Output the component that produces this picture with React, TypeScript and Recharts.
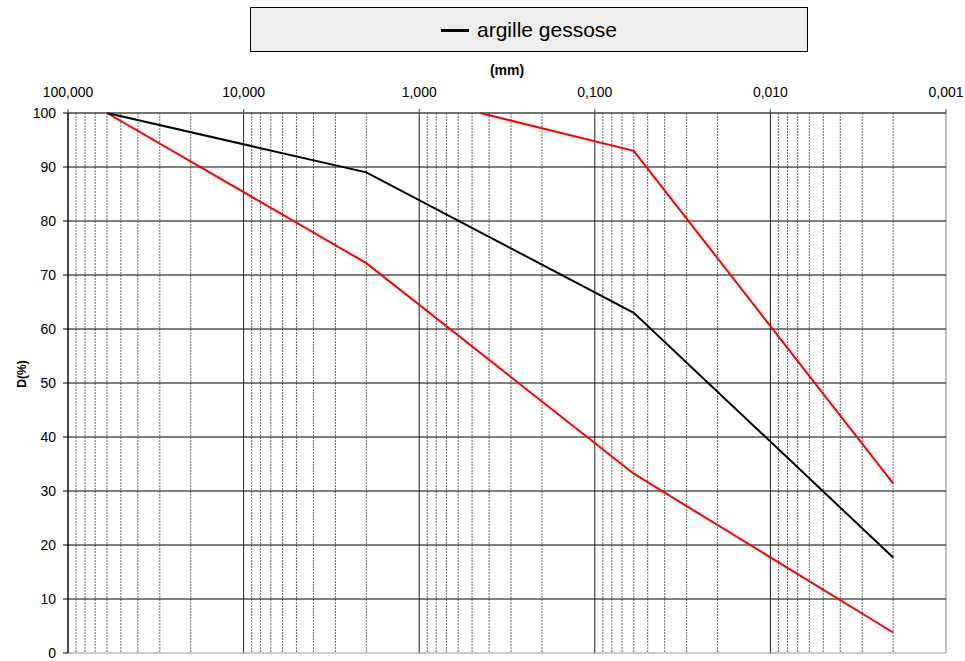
import React from 'react';
import { LineChart, Line, XAxis, YAxis, ReferenceLine } from 'recharts';

// grain size (mm) and passing percentage
const blackSizes = [60, 2, 0.06, 0.002];
const blackPassing = [100, 89, 63, 17.7];
const lowerSizes = [60, 2, 0.06, 0.002];
const lowerPassing = [100, 72.2, 33.2, 3.8];
const upperSizes = [0.45, 0.06, 0.002];
const upperPassing = [100, 93, 31.4];

const decadeTicks = [100, 10, 1, 0.1, 0.01, 0.001];
const minorDecades = [10, 1, 0.1, 0.01, 0.001];
const minorMultipliers = [2, 3, 4, 5, 6, 7, 8, 9];
const yTicks = [0, 10, 20, 30, 40, 50, 60, 70, 80, 90, 100];
const yGrid = [10, 20, 30, 40, 50, 60, 70, 80, 90, 100];

const legendName = 'argille gessose';

const toRows = (sizes: number[], vals: number[]) => sizes.map((d, i) => ({ d, p: vals[i] }));
const blackData = toRows(blackSizes, blackPassing);
const lowerData = toRows(lowerSizes, lowerPassing);
const upperData = toRows(upperSizes, upperPassing);

const minorValues: number[] = [];
minorDecades.forEach((dec) => minorMultipliers.forEach((m) => minorValues.push(+(dec * m).toPrecision(3))));

const FONT = '"Liberation Sans", Arial, sans-serif';

export default function App() {
  return (
    <div style={{ position: 'absolute', left: 0, top: 0, width: 965, height: 661, background: '#fff', fontFamily: FONT }}>
      <div
        style={{
          position: 'absolute',
          left: 250,
          top: 7,
          width: 556,
          height: 43,
          background: '#eeeeee',
          border: '1px solid #000',
          display: 'flex',
          alignItems: 'center',
          justifyContent: 'center',
        }}
      >
        <span style={{ display: 'inline-block', width: 28, height: 3, background: '#000', marginRight: 8, marginTop: 1 }} />
        <span style={{ fontSize: 21, color: '#000', fontFamily: FONT }}>{legendName}</span>
      </div>
      <LineChart width={965} height={661} margin={{ top: 63, right: 19, bottom: 8, left: 0 }}>
        <XAxis
          dataKey="d"
          type="number"
          scale="log"
          domain={[0.001, 100]}
          reversed
          orientation="top"
          ticks={decadeTicks}
          interval={0}
          allowDataOverflow
          height={50}
          tickSize={4}
          tickMargin={12}
          tickFormatter={(v: number) => v.toFixed(3).replace('.', ',')}
          tick={{ fontSize: 14, fill: '#000', fontFamily: FONT }}
          stroke="#444"
          axisLine={{ stroke: '#444' }}
          tickLine={{ stroke: '#444' }}
          label={{ value: '(mm)', position: 'insideTop', offset: 2, fontSize: 14, fontWeight: 'bold', fill: '#000', fontFamily: FONT }}
        />
        <YAxis
          type="number"
          domain={[0, 100]}
          ticks={yTicks}
          interval={0}
          width={68}
          tickSize={5}
          tickMargin={7}
          tick={{ fontSize: 14, fill: '#000', fontFamily: FONT }}
          axisLine={{ stroke: '#000' }}
          tickLine={{ stroke: '#000' }}
          label={(props: any) => {
            const vb = props.viewBox || { x: 0, y: 113, width: 68, height: 540 };
            const cx = vb.x + 22;
            const cy = vb.y + vb.height / 2 - 9;
            return (
              <text
                x={cx}
                y={cy}
                transform={`rotate(-90 ${cx} ${cy})`}
                textAnchor="middle"
                dominantBaseline="central"
                fontSize={12}
                fontWeight="bold"
                fill="#000"
                fontFamily={FONT}
              >
                D(%)
              </text>
            );
          }}
        />
        {minorValues.map((v) => (
          <ReferenceLine key={'m' + v} x={v} stroke="#6a6a6a" strokeDasharray="2 1" strokeWidth={1} />
        ))}
        {decadeTicks.map((v) => (
          <ReferenceLine key={'M' + v} x={v} stroke={v === 0.001 ? '#888' : '#222'} strokeWidth={1} />
        ))}
        {yGrid.map((v) => (
          <ReferenceLine key={'h' + v} y={v} stroke={v === 100 ? '#444' : '#000'} strokeWidth={1} />
        ))}
        <ReferenceLine y={0} stroke="#999" strokeWidth={1} />
        <Line data={upperData} dataKey="p" type="linear" stroke="#ff0000" strokeWidth={2} dot={false} isAnimationActive={false} />
        <Line data={lowerData} dataKey="p" type="linear" stroke="#ff0000" strokeWidth={2} dot={false} isAnimationActive={false} />
        <Line data={blackData} dataKey="p" name={legendName} type="linear" stroke="#000" strokeWidth={2} dot={false} isAnimationActive={false} />
      </LineChart>
    </div>
  );
}
